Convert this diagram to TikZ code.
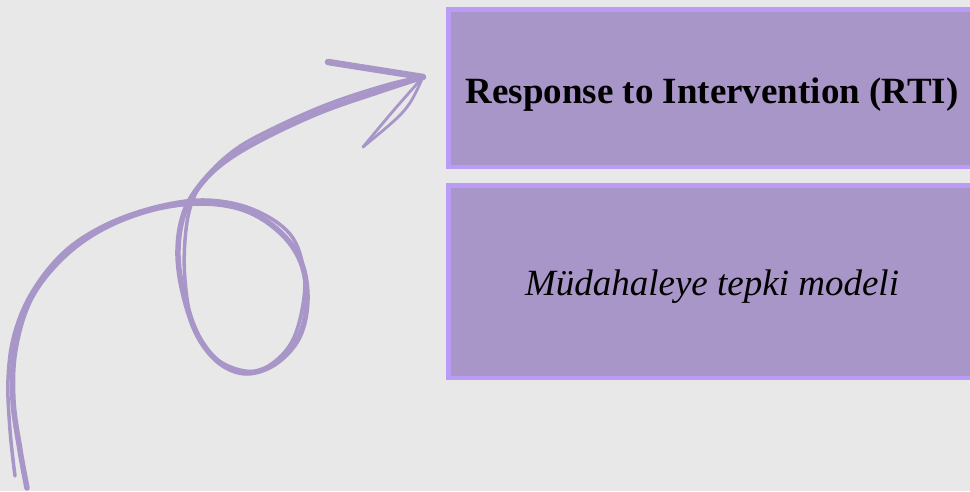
\documentclass[tikz,border=0pt]{standalone}
\usepackage{fontspec}
\setmainfont{Liberation Serif}
\usepackage{tikz}
\usetikzlibrary{positioning}
\definecolor{bgray}{HTML}{E8E8E8}
\definecolor{boxfill}{HTML}{A996C8}
\definecolor{boxline}{HTML}{BA9CF6}
\definecolor{swirl}{HTML}{A996C8}

\begin{document}
\begin{tikzpicture}[x=1pt, y=-1pt,
        box/.style={rectangle, draw=boxline, fill=boxfill, line width=4.5pt, minimum width=527.5pt, inner sep=0pt},
        txt/.style={anchor=base, inner sep=0pt, font=\fontsize{37}{44}\selectfont},
        pen/.style={draw=swirl, line cap=round, line join=round}]
        \useasboundingbox[fill=bgray] (0,0) rectangle (970,491);
        \node[box, minimum height=157.5pt] (rti) at (712,88) {};
        \node[box, minimum height=192.5pt] (model) at (712,281.5) {};
        \node[txt] (rtitxt) at (712,103) {\bfseries Response to Intervention (RTI)};
        \node[txt] (modeltxt) at (712,295) {\itshape Müdahaleye tepki modeli};
        \coordinate (start) at (27,488);
        \coordinate (tip) at (423,77);
        \coordinate (barbA) at (328,62);
        \coordinate (barbB) at (363,147);
        \draw[pen, line width=5.5pt] plot[smooth, tension=0.6] coordinates {(start) (20,450) (13,400) (15,350) (30,300) (60,260) (100,230) (150,210) (200,203) (245,210) (280,232) (301,262) (307,300) (299,337) (276,363) (247,373) (220,363) (198,336) (184,296) (178,256) (182,220) (195,192) (220,165) (260,140) (320,112) (380,91) (tip)};
        \draw[pen, line width=3.5pt] plot[smooth, tension=0.6] coordinates {(15,476) (10,430) (8,380) (14,335) (32,292) (64,252) (105,225) (155,207) (205,200) (252,209) (290,234) (304,272) (302,310) (290,345) (265,368) (240,370) (212,355) (192,320) (185,280) (185,240) (191,205) (206,177) (236,149) (276,127) (331,103) (390,84) (tip)};
        \draw[pen, line width=6.5pt] (barbA) -- (tip);
        \draw[pen, line width=2.8pt] (tip) .. controls (408,110) .. (barbB);
        \draw[pen, line width=2.8pt] (tip) .. controls (392,112) .. (barbB);
\end{tikzpicture}
\end{document}
